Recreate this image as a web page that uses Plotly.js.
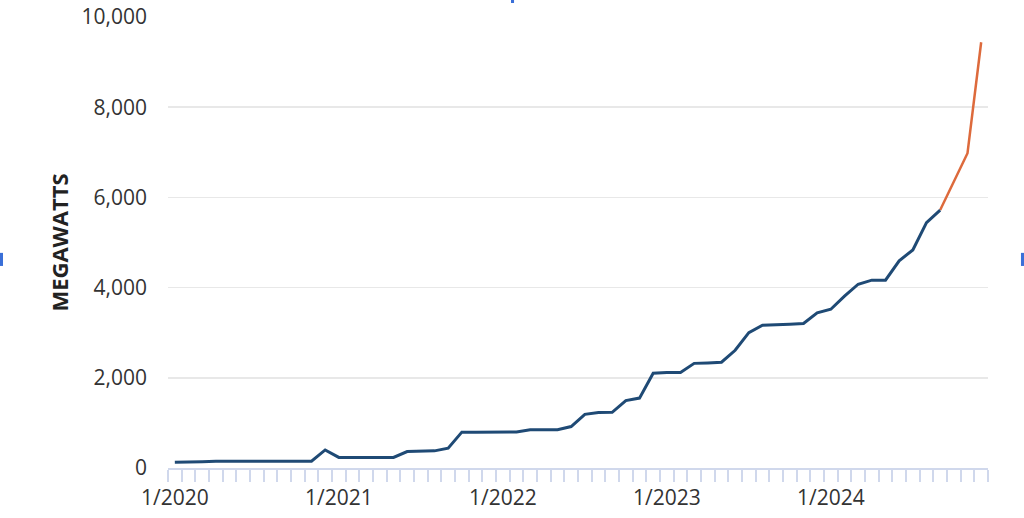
<!DOCTYPE html>
<html>
<head>
<meta charset="utf-8">
<script src="https://cdn.plot.ly/plotly-3.0.1.min.js"></script>
<style>html,body{margin:0;padding:0;background:#fff;}#chart{width:1024px;height:518px;}</style>
</head>
<body>
<div id="chart"></div>
<script>
// Month categories 1/2020 .. 12/2024
const years = [2020, 2021, 2022, 2023, 2024];
const months = [];
years.forEach(y => { for (let m = 1; m <= 12; m++) months.push(m + '/' + y); });

// Installed capacity (MW), 1/2020 .. 9/2024
const installed = [
  125, 125, 140, 150, 150, 150, 150, 150, 150, 150, 150, 400,
  235, 235, 235, 235, 235, 365, 365, 380, 440, 795, 795, 795,
  795, 800, 850, 850, 850, 920, 1190, 1230, 1235, 1495, 1550, 2100,
  2120, 2120, 2320, 2330, 2345, 2610, 3000, 3165, 3170, 3190, 3205, 3440,
  3520, 3810, 4075, 4165, 4165, 4595, 4835, 5440, 5720
];
// Projected capacity (MW), 9/2024 .. 12/2024
const projected = [5720, 6340, 6980, 9440];
const projectedStart = 56;

const yTicks = [0, 2000, 4000, 6000, 8000, 10000];

const idx = months.map((m, i) => i);
const xInstalled = idx.slice(0, installed.length);
const xProjected = idx.slice(projectedStart, projectedStart + projected.length);
const labelIdx = idx.filter(i => months[i].startsWith('1/'));
const labelText = labelIdx.map(i => months[i]);

const FONT = 'Open Sans, Lato, sans-serif';

const traces = [
  {x: xProjected, y: projected, type: 'scatter', mode: 'lines',
   line: {color: '#dd6a3c', width: 2.5}, hoverinfo: 'skip', showlegend: false},
  {x: xInstalled, y: installed, type: 'scatter', mode: 'lines',
   line: {color: '#1f4a75', width: 3}, hoverinfo: 'skip', showlegend: false}
];

const layout = {
  width: 1024, height: 518,
  margin: {l: 168, r: 36, t: 17, b: 50, pad: 0},
  paper_bgcolor: '#ffffff', plot_bgcolor: '#ffffff',
  showlegend: false,
  font: {family: FONT, size: 21, color: '#333333'},
  xaxis: {
    range: [-0.5, 59.5], fixedrange: true,
    showgrid: false, zeroline: false,
    showline: true, linecolor: '#d0d8ec', linewidth: 2,
    ticks: '', tickvals: labelIdx, ticktext: labelText,
    tickfont: {family: FONT, size: 21, color: '#333333'},
    ticklabelstandoff: 10,
    minor: {tick0: -0.5, dtick: 1, ticks: 'outside', ticklen: 12, tickwidth: 2,
            tickcolor: '#d0d8ec', showgrid: false}
  },
  yaxis: {
    range: [0, 10000], fixedrange: true,
    tickvals: yTicks, tickformat: ',',
    showgrid: true, gridcolor: '#e8e8e8', gridwidth: 1.5,
    zeroline: false, showline: false, ticks: '',
    tickfont: {family: FONT, size: 21, color: '#333333'},
    ticklabelstandoff: 20,
    title: {text: 'MEGAWATTS', standoff: 6,
            font: {family: FONT, size: 22, color: '#222222', weight: 700}}
  },
  shapes: [
    {type: 'rect', xref: 'paper', yref: 'paper', x0: -0.2049, x1: -0.2012, y0: 0.448, y1: 0.477,
     fillcolor: '#3a6fd8', line: {width: 0}},
    {type: 'rect', xref: 'paper', yref: 'paper', x0: 1.0402, x1: 1.0439, y0: 0.448, y1: 0.477,
     fillcolor: '#3a6fd8', line: {width: 0}},
    {type: 'rect', xref: 'paper', yref: 'paper', x0: 0.4183, x1: 0.4220, y0: 1.031, y1: 1.038,
     fillcolor: '#3a6fd8', line: {width: 0}}
  ]
};

Plotly.newPlot('chart', traces, layout, {staticPlot: true, displayModeBar: false});
</script>
</body>
</html>
